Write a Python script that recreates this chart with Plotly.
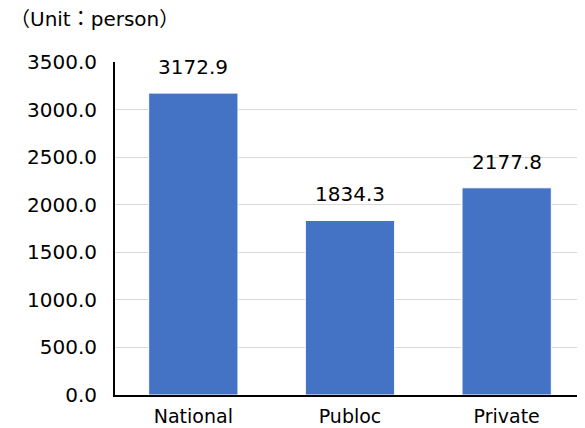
import plotly.graph_objects as go

categories = ["National", "Publoc", "Private"]
values = [3172.9, 1834.3, 2177.8]
tick_vals = [0, 500, 1000, 1500, 2000, 2500, 3000, 3500]
tick_text = [f"{v:.1f}" for v in tick_vals]

font_family = "DejaVu Sans, Noto Sans CJK JP, sans-serif"

fig = go.Figure(go.Bar(
    x=categories, y=values,
    marker=dict(color="#4472C4", line=dict(color="white", width=1)),
    cliponaxis=False,
))

annotations = [dict(
    x=c, y=v, xref="x", yref="y", text=f"{v:.1f}",
    showarrow=False, yanchor="bottom", yshift=12,
    font=dict(size=20, family=font_family, color="#000000"),
) for c, v in zip(categories, values)]

annotations.append(dict(
    text="（Unit：person）", x=0, y=1, xref="paper", yref="paper",
    xshift=-107, yshift=29, xanchor="left", yanchor="bottom",
    showarrow=False, font=dict(size=20, family=font_family, color="#000000"),
))

# page body has an 8px margin, so the figure is 8px smaller and offset
fig.update_layout(
    width=577, height=420,
    margin=dict(l=107, r=0, t=54, b=33),
    plot_bgcolor="white", paper_bgcolor="white",
    bargap=0.43,
    showlegend=False,
    font=dict(family=font_family, color="#000000"),
    annotations=annotations,
)
fig.update_yaxes(
    range=[0, 3500], tickvals=tick_vals, ticktext=tick_text,
    showgrid=True, gridcolor="#D9D9D9", gridwidth=1,
    showline=True, linecolor="black", linewidth=2,
    ticks="", tickfont=dict(size=20, family=font_family), ticklabelstandoff=12,
    zeroline=False, automargin=False,
)
fig.update_xaxes(
    showline=True, linecolor="black", linewidth=2,
    ticks="", tickfont=dict(size=19, family=font_family), ticklabelstandoff=3,
    automargin=False,
)

fig.write_html("out.html")
